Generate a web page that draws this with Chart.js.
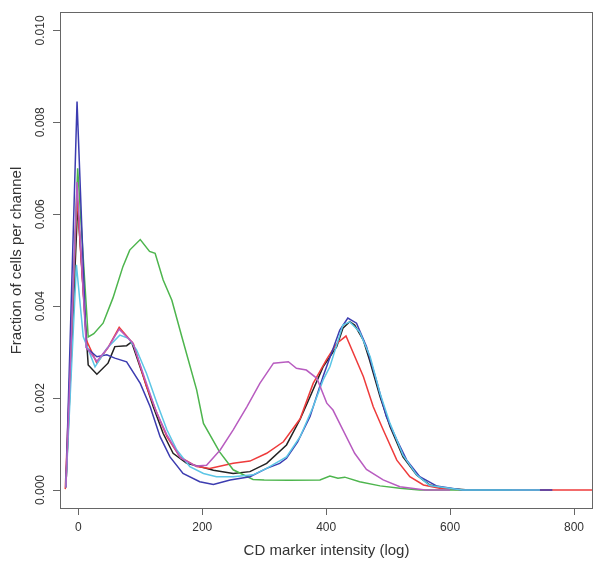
<!DOCTYPE html>
<html>
<head>
<meta charset="utf-8">
<script src="https://cdn.jsdelivr.net/npm/chart.js@4/dist/chart.umd.min.js"></script>
<style>
  html, body { margin: 0; padding: 0; background: #fff; }
  canvas { display: block; }
</style>
</head>
<body>
<canvas id="chart" width="601" height="566"></canvas>
<script>
// values, one x/y pair of arrays per curve
const blackX = [-20, -1, 16, 30, 48, 59, 78, 86, 105, 121, 137, 153, 175, 196, 218, 250, 277, 304, 336, 358, 374, 395, 417, 427, 438, 446, 460, 470, 487, 503, 524, 546, 567, 594, 630, 700];
const blackY = [0.00007, 0.0062, 0.00272, 0.00252, 0.00276, 0.00312, 0.00314, 0.00322, 0.00247, 0.00181, 0.00123, 0.0008, 0.00058, 0.00051, 0.00043, 0.00036, 0.0004, 0.00058, 0.00098, 0.00154, 0.00203, 0.00268, 0.00312, 0.00352, 0.00366, 0.00359, 0.00326, 0.00283, 0.00203, 0.00138, 0.00072, 0.00033, 0.00011, 0.00004, 0, 0];

const redX = [-21, -2, 13, 30, 48, 66, 89, 110, 127, 143, 164, 191, 212, 250, 277, 304, 331, 358, 379, 401, 417, 432, 460, 476, 492, 514, 535, 557, 583, 621, 1000];
const redY = [0.00002, 0.0064, 0.00326, 0.00276, 0.0031, 0.00354, 0.00318, 0.00225, 0.00167, 0.00116, 0.00072, 0.00051, 0.00047, 0.00058, 0.00063, 0.0008, 0.00105, 0.00155, 0.00232, 0.00285, 0.00319, 0.00335, 0.00247, 0.00181, 0.00131, 0.00065, 0.00029, 0.00011, 0.00004, 0, 0];

const greenX = [-20, -1, 16, 25, 40, 56, 72, 83, 100, 115, 124, 137, 151, 167, 191, 202, 228, 250, 282, 300, 340, 390, 406, 419, 430, 454, 487, 519, 551, 700];
const greenY = [0.00005, 0.007, 0.00333, 0.0034, 0.00363, 0.00418, 0.00486, 0.00522, 0.00545, 0.00519, 0.00515, 0.00457, 0.00413, 0.00334, 0.00218, 0.00145, 0.00083, 0.00044, 0.00023, 0.00022, 0.00021, 0.00022, 0.000305, 0.000255, 0.00028, 0.00018, 0.00009, 0.00004, 0, 0];

const blueX = [-20, -2, 13, 30, 46, 59, 78, 100, 116, 132, 148, 169, 196, 218, 245, 277, 304, 325, 336, 354, 374, 395, 422, 435, 449, 465, 481, 497, 514, 530, 551, 578, 620, 765];
const blueY = [0.00007, 0.00845, 0.0031, 0.0029, 0.00294, 0.00287, 0.00279, 0.00232, 0.00181, 0.00116, 0.00072, 0.00036, 0.00018, 0.00012, 0.00022, 0.00029, 0.00047, 0.00058, 0.00069, 0.00105, 0.0016, 0.00247, 0.00348, 0.00374, 0.00363, 0.00312, 0.00239, 0.0016, 0.00109, 0.00065, 0.00029, 0.00009, 0, 0];

const cyanX = [-20, -3, 8, 27, 46, 67, 81, 94, 110, 127, 143, 159, 180, 202, 223, 250, 282, 304, 336, 358, 379, 395, 406, 427, 438, 454, 471, 487, 503, 524, 546, 567, 620, 745];
const cyanY = [0.00007, 0.0049, 0.00334, 0.00268, 0.00308, 0.00337, 0.0033, 0.00305, 0.00254, 0.00189, 0.00131, 0.00087, 0.00051, 0.00036, 0.00029, 0.00029, 0.00033, 0.00047, 0.00072, 0.00116, 0.00181, 0.00239, 0.00268, 0.00359, 0.00366, 0.00344, 0.0029, 0.0021, 0.00145, 0.00076, 0.00033, 0.0001, 0, 0];

const magentaX = [-20, -2, 13, 30, 48, 66, 88, 108, 126, 143, 165, 190, 207, 229, 250, 272, 293, 315, 339, 352, 368, 385, 401, 411, 427, 446, 465, 492, 519, 560, 600];
const magentaY = [0.00005, 0.0067, 0.0031, 0.0028, 0.0031, 0.0035, 0.0032, 0.0024, 0.0017, 0.0012, 0.0007, 0.00052, 0.00054, 0.00087, 0.00131, 0.00181, 0.00232, 0.00276, 0.00279, 0.00265, 0.00261, 0.00243, 0.00189, 0.00174, 0.00131, 0.0008, 0.00045, 0.00022, 0.00007, 0, 0];

const xTicks = [0, 200, 400, 600, 800];
const yTicks = [0, 0.002, 0.004, 0.006, 0.008, 0.010];

const FONT = "'Liberation Sans', Arial, Helvetica, sans-serif";
const TEXT = "#333";
const AXIS = "#666";

function pairs(xs, ys) {
  return xs.map((x, i) => ({ x: x, y: ys[i] }));
}

// R draws the columns in order, so the last one ends up on top
const series = [
  { xs: blackX, ys: blackY, color: "#222222" },
  { xs: redX, ys: redY, color: "#ee3b3b" },
  { xs: greenX, ys: greenY, color: "#4db54d" },
  { xs: blueX, ys: blueY, color: "#3c3cb0" },
  { xs: cyanX, ys: cyanY, color: "#5cc6e6" },
  { xs: magentaX, ys: magentaY, color: "#b85cc0" },
];

const boxPlugin = {
  id: "box",
  afterDatasetsDraw(chart) {
    const { ctx, chartArea: a } = chart;
    ctx.save();
    ctx.strokeStyle = AXIS;
    ctx.lineWidth = 1;
    ctx.strokeRect(a.left + 0.5, a.top + 0.5, a.right - a.left - 1, a.bottom - a.top - 1);
    ctx.restore();
  },
};

new Chart(document.getElementById("chart"), {
  type: "line",
  data: {
    datasets: series.map((s, i) => ({
      data: pairs(s.xs, s.ys),
      borderColor: s.color,
      borderWidth: 1.5,
      pointRadius: 0,
      tension: 0,
      fill: false,
      order: series.length - i,
    })),
  },
  options: {
    responsive: false,
    animation: false,
    layout: { padding: { top: 12, right: 8, left: 0, bottom: 0 } },
    plugins: { legend: { display: false }, tooltip: { enabled: false } },
    scales: {
      x: {
        type: "linear",
        min: -29.5,
        max: 830.6,
        afterFit: (s) => { s.height = 57; },
        afterBuildTicks: (s) => { s.ticks = xTicks.map((v) => ({ value: v })); },
        ticks: {
          includeBounds: false,
          color: TEXT,
          padding: 5,
          maxRotation: 0,
          font: { family: FONT, size: 12 },
        },
        grid: { drawOnChartArea: false, drawTicks: true, tickLength: 6, color: AXIS },
        border: { display: false },
        title: {
          display: true,
          text: "CD marker intensity (log)",
          color: TEXT,
          font: { family: FONT, size: 15 },
          padding: { top: 4, bottom: 6 },
        },
      },
      y: {
        type: "linear",
        min: -0.000413,
        max: 0.0104,
        afterFit: (s) => { s.width = 60; },
        afterBuildTicks: (s) => { s.ticks = yTicks.map((v) => ({ value: v })); },
        ticks: {
          includeBounds: false,
          color: TEXT,
          minRotation: 90,
          maxRotation: 90,
          crossAlign: "center",
          padding: -2.5,
          font: { family: FONT, size: 12 },
          callback: (v) => Number(v).toFixed(3),
        },
        grid: { drawOnChartArea: false, drawTicks: true, tickLength: 7, color: AXIS },
        border: { display: false },
        title: {
          display: true,
          text: "Fraction of cells per channel",
          color: TEXT,
          font: { family: FONT, size: 15 },
          padding: { top: 8, bottom: 8 },
        },
      },
    },
  },
  plugins: [boxPlugin],
});
</script>
</body>
</html>
